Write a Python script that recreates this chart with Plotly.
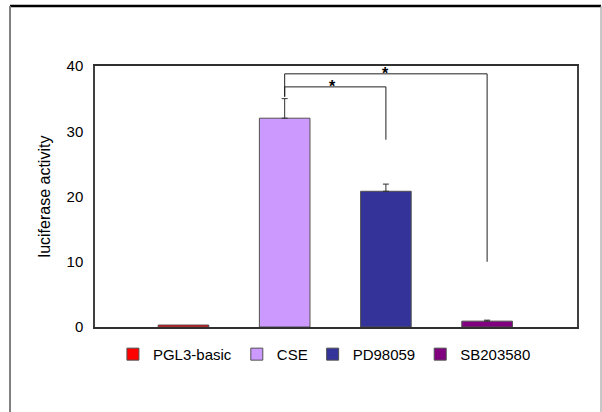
import plotly.graph_objects as go

categories = ["PGL3-basic", "CSE", "PD98059", "SB203580"]
values = [0.3, 32.0, 20.8, 0.9]
errors_plus = [0.0, 3.0, 1.1, 0.15]
colors = ["#FF0000", "#CC99FF", "#333399", "#800080"]
y_ticks = [0, 10, 20, 30, 40]
# significance brackets: (from, to, bracket height, right leg bottom, star x)
brackets = [
    ("CSE", "SB203580", 38.8, 10.0, 2.0),
    ("CSE", "PD98059", 36.8, 28.7, 1.47),
]
bracket_base = 35.3

FONT = "Liberation Sans, Arial, sans-serif"

fig = go.Figure()
for cat, val, err, col in zip(categories, values, errors_plus, colors):
    fig.add_trace(go.Bar(
        x=[cat], y=[val], name=cat, width=0.5,
        marker=dict(color=col, line=dict(color="#505050", width=1)),
        error_y=dict(type="data", symmetric=False, array=[err], arrayminus=[0],
                     color="#303030", thickness=1, width=3, visible=err > 0),
    ))

shapes = []
annotations = []
for a, b, h, low, sx in brackets:
    shapes.append(dict(type="line", xref="x", yref="y", x0=a, x1=a, y0=bracket_base, y1=h,
                       line=dict(color="#202020", width=1)))
    shapes.append(dict(type="line", xref="x", yref="y", x0=a, x1=b, y0=h, y1=h,
                       line=dict(color="#202020", width=1)))
    shapes.append(dict(type="line", xref="x", yref="y", x0=b, x1=b, y0=h, y1=low,
                       line=dict(color="#202020", width=1)))
    annotations.append(dict(x=sx, y=h, xref="x", yref="y", text="<b>*</b>", showarrow=False,
                            yanchor="middle", font=dict(family=FONT, size=16, color="black")))

# outer frame
shapes += [
    dict(type="line", xref="paper", yref="paper", x0=-0.1763, x1=1.0498, y0=1.2299, y1=1.2299,
         line=dict(color="black", width=2.5)),
    dict(type="line", xref="paper", yref="paper", x0=-0.1763, x1=-0.1763, y0=1.2299, y1=-0.34,
         line=dict(color="#808080", width=2)),
    dict(type="line", xref="paper", yref="paper", x0=1.0498, x1=1.0498, y0=1.2299, y1=-0.34,
         line=dict(color="#909090", width=1)),
]

fig.update_layout(
    width=602, height=412,
    margin=dict(l=95, r=25, t=66, b=85),
    paper_bgcolor="white", plot_bgcolor="white",
    barmode="overlay",
    font=dict(family=FONT, size=14, color="black"),
    showlegend=True,
    legend=dict(orientation="h", x=0.476, xanchor="center", y=-0.105, yanchor="middle",
                font=dict(family=FONT, size=15, color="black"), itemwidth=30,
                traceorder="normal"),
    shapes=shapes,
    annotations=annotations,
)
fig.update_xaxes(range=[-0.874, 3.888], showticklabels=False, ticks="", showgrid=False,
                 showline=True, linecolor="#303030", linewidth=1.5, mirror=True, zeroline=False)
fig.update_yaxes(range=[0, 40], tickvals=y_ticks, ticks="", showgrid=False, zeroline=False,
                 showline=True, linecolor="#404040", linewidth=1.5, mirror=True,
                 ticklabelstandoff=7,
                 tickfont=dict(family=FONT, size=15, color="black"),
                 title=dict(text="luciferase activity", standoff=12,
                            font=dict(family=FONT, size=16, color="black")))

fig.write_html("out.html", config={"displayModeBar": False},
               post_script="document.body.style.margin='0px';")
